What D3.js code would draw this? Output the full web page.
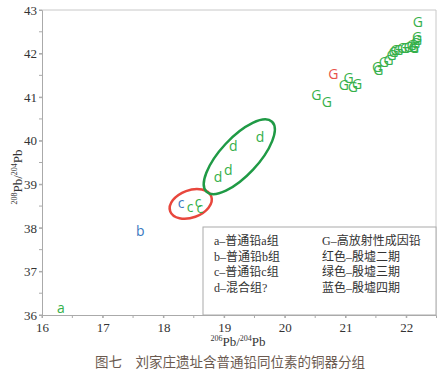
<html>
<head>
<meta charset="utf-8">
<script src="https://d3js.org/d3.v7.min.js"></script>
<style>
  body { margin: 0; background: #fff; }
  text { font-family: "Liberation Serif", "Noto Sans CJK SC", serif; }
  .mark { font-family: "Open Sans", "Noto Sans", sans-serif; font-size: 14px; }
</style>
</head>
<body>
<script>
// 206Pb/204Pb, 208Pb/204Pb, letter, colour group
var groupA = [[16.31, 36.16, "a", "green"]];
var groupB = [[17.62, 37.94, "b", "blue"]];
var groupC = [[18.29, 38.56, "c", "blue"], [18.44, 38.49, "c", "green"],
              [18.57, 38.59, "c", "green"], [18.60, 38.46, "c", "green"]];
var groupD = [[18.90, 39.16, "d", "green"], [19.07, 39.33, "d", "green"],
              [19.15, 39.88, "d", "green"], [19.59, 40.09, "d", "green"]];
var groupG = [
  [22.19, 42.72], [22.18, 42.39], [22.18, 42.31], [22.15, 42.24], [22.12, 42.16],
  [22.09, 42.20], [22.04, 42.16], [22.13, 42.13], [21.98, 42.12], [21.93, 42.12],
  [21.87, 42.08], [21.82, 42.08], [21.79, 42.03], [21.76, 41.97], [21.71, 41.85],
  [21.63, 41.81], [21.52, 41.70], [21.54, 41.62], [21.05, 41.43], [20.97, 41.28],
  [21.19, 41.30], [21.12, 41.23], [20.52, 41.05], [20.69, 40.90]
].map(function(d) { return [d[0], d[1], "G", "green"]; });
var groupGRed = [[20.80, 41.53, "G", "red"]];

// cx, cy, semi-axis a (x units), semi-axis b (x units), angle, colour
var ellipses = [
  [18.45, 38.55, 0.36, 0.225, -20, "#e8473d"],
  [19.25, 39.63, 0.79, 0.31, -47, "#1f9a45"]
];

var xTicks = [16, 17, 18, 19, 20, 21, 22];
var yTicks = [36, 37, 38, 39, 40, 41, 42, 43];
var legendLeft = ["a–普通铅a组", "b–普通铅b组", "c–普通铅c组", "d–混合组?"];
var legendRight = ["G–高放射性成因铅", "红色–殷墟二期", "绿色–殷墟三期", "蓝色–殷墟四期"];
var caption = "图七　刘家庄遗址含普通铅同位素的铜器分组";

var colors = { green: "#35b04a", blue: "#3a78c0", red: "#e8524a" };

var width = 444, height = 380;
var margin = { left: 42, top: 10, right: 8, bottom: 65 };
var w = width - margin.left - margin.right;
var h = height - margin.top - margin.bottom;

var svg = d3.select("body").append("svg")
  .attr("width", width).attr("height", height);
var g = svg.append("g")
  .attr("transform", "translate(" + margin.left + "," + margin.top + ")");

var x = d3.scaleLinear().domain([16, 22.49]).range([0, w]);
var y = d3.scaleLinear().domain([36, 43]).range([h, 0]);

// frame: top and right
g.append("path")
  .attr("d", "M0,0H" + w + "V" + h)
  .attr("fill", "none").attr("stroke", "#c8c8c8");

// minor ticks
var xMinor = d3.range(16, 22.5, 0.5);
var yMinor = d3.range(36, 43.01, 0.5);
g.selectAll(".xm").data(xMinor).enter().append("line")
  .attr("x1", d => x(d)).attr("x2", d => x(d))
  .attr("y1", h).attr("y2", h + 3).attr("stroke", "#aaa");
g.selectAll(".ym").data(yMinor).enter().append("line")
  .attr("x1", -3).attr("x2", 0)
  .attr("y1", d => y(d)).attr("y2", d => y(d)).attr("stroke", "#aaa");

// legend box
var lg = g.append("g").attr("transform", "translate(" + (203 - margin.left) + "," + (227 - margin.top) + ")");
lg.append("rect").attr("width", w - (203 - margin.left)).attr("height", h - (227 - margin.top))
  .attr("fill", "#fff").attr("stroke", "#aaa");
lg.selectAll(".ll").data(legendLeft).enter().append("text")
  .attr("x", 11).attr("y", (d, i) => 18 + i * 15.7)
  .attr("font-size", 12).attr("fill", "#333").text(d => d);
lg.selectAll(".lr").data(legendRight).enter().append("text")
  .attr("x", 119).attr("y", (d, i) => 18 + i * 15.7)
  .attr("font-size", 12).attr("fill", "#333").text(d => d);

// axes
var xAxis = g.append("g").attr("transform", "translate(0," + h + ")")
  .call(d3.axisBottom(x).tickValues(xTicks).tickSize(3).tickFormat(d3.format("d")));
var yAxis = g.append("g")
  .call(d3.axisLeft(y).tickValues(yTicks).tickSize(3).tickFormat(d3.format("d")));
[xAxis, yAxis].forEach(function(a) {
  a.select(".domain").attr("stroke", "#aaa");
  a.selectAll(".tick line").attr("stroke", "#aaa");
  a.selectAll(".tick text").attr("font-family", "Liberation Serif")
    .attr("font-size", 13).attr("fill", "#333");
});
xAxis.selectAll(".tick text").attr("dy", "0.85em");
yAxis.selectAll(".tick text").attr("x", -5);

// ellipses
g.selectAll(".ell").data(ellipses).enter().append("ellipse")
  .attr("transform", d => "translate(" + x(d[0]) + "," + y(d[1]) + ") rotate(" + d[4] + ")")
  .attr("rx", d => x(16 + d[2]) - x(16))
  .attr("ry", d => x(16 + d[3]) - x(16))
  .attr("fill", "none").attr("stroke", d => d[5]).attr("stroke-width", 2.5);

// points as letters
var pts = [].concat(groupA, groupB, groupC, groupD, groupG, groupGRed);
g.selectAll(".mark").data(pts).enter().append("text")
  .attr("class", "mark")
  .attr("x", d => x(d[0])).attr("y", d => y(d[1]))
  .attr("text-anchor", "middle").attr("dy", "0.36em")
  .attr("fill", d => colors[d[3]])
  .text(d => d[2]);

// axis titles
var xt = svg.append("text").attr("x", 238).attr("y", 346)
  .attr("text-anchor", "middle").attr("font-size", 13).attr("fill", "#333");
xt.append("tspan").attr("font-size", 8).attr("dy", -5).text("206");
xt.append("tspan").attr("dy", 5).text("Pb/");
xt.append("tspan").attr("font-size", 8).attr("dy", -5).text("204");
xt.append("tspan").attr("dy", 5).text("Pb");

var yt = svg.append("text")
  .attr("transform", "translate(22,177) rotate(-90)")
  .attr("text-anchor", "middle").attr("font-size", 13).attr("fill", "#333");
yt.append("tspan").attr("font-size", 8).attr("dy", -5).text("208");
yt.append("tspan").attr("dy", 5).text("Pb/");
yt.append("tspan").attr("font-size", 8).attr("dy", -5).text("204");
yt.append("tspan").attr("dy", 5).text("Pb");

// caption
svg.append("text").attr("x", 230).attr("y", 367)
  .attr("text-anchor", "middle").attr("font-size", 13.5)
  .attr("font-family", "Noto Sans CJK SC").attr("fill", "#6b5a50")
  .text(caption);
</script>
</body>
</html>
